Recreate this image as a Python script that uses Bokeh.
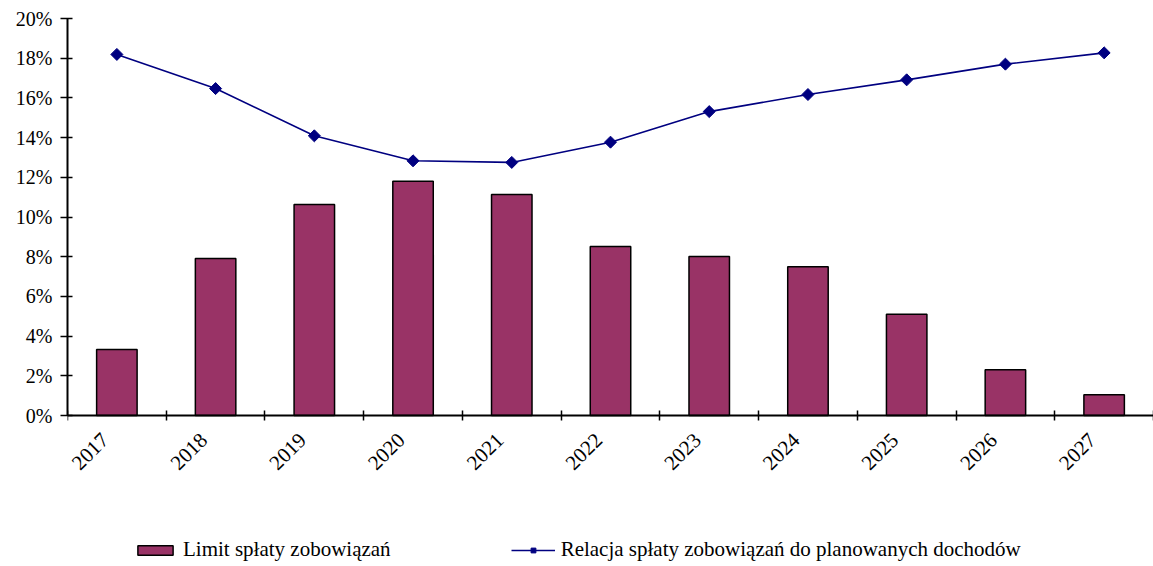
import math
from bokeh.plotting import figure
from bokeh.models import (FixedTicker, NumeralTickFormatter, Legend, LegendItem,
                          ColumnDataSource, Range1d, Grid, LinearAxis)
from bokeh.embed import file_html
from bokeh.resources import INLINE

years = ["2017", "2018", "2019", "2020", "2021", "2022", "2023", "2024", "2025", "2026", "2027"]
limit_splaty = [0.0332, 0.0791, 0.1063, 0.1180, 0.1113, 0.0851, 0.0801, 0.0749, 0.0510, 0.0230, 0.0104]
relacja = [0.1819, 0.1647, 0.1409, 0.1283, 0.1275, 0.1377, 0.1531, 0.1617, 0.1691, 0.1770, 0.1827]
y_ticks = [0.0, 0.02, 0.04, 0.06, 0.08, 0.10, 0.12, 0.14, 0.16, 0.18, 0.20]

FONT = "Liberation Serif"

idx = list(range(len(years)))
src = ColumnDataSource(dict(x=idx, year=years, limit=limit_splaty, rel=relacja))

# frame runs from the top margin to the bottom of the page; value 0 sits 151 px above the bottom
Y_MAX = 0.2
Y_MIN = -Y_MAX * 151 / 397

p = figure(width=1153, height=566, output_backend="svg", toolbar_location=None,
           x_axis_location=None,
           x_range=Range1d(-0.5, len(years) - 0.5), y_range=Range1d(Y_MIN, Y_MAX),
           min_border_left=67, min_border_right=0, min_border_top=18, min_border_bottom=0)
p.outline_line_color = None
p.background_fill_color = "white"
p.border_fill_color = "white"
p.grid.visible = False

bars = p.vbar(x="x", top="limit", width=0.41, bottom=0, source=src,
              fill_color="#993366", line_color="black", line_width=1.5)
ln = p.line(x="x", y="rel", source=src, line_color="#000080", line_width=1.6)
mk = p.scatter(x="x", y="rel", source=src, marker="square", angle=math.pi / 4, size=8.5,
               fill_color="#000080", line_color="#000080")

# top gray line at 20%
top_grid = Grid(dimension=1, ticker=FixedTicker(ticks=[Y_MAX]), grid_line_color="#999999",
                grid_line_width=1.5)
p.add_layout(top_grid)

# x axis fixed at value 0; labels slightly left of the category centre
label_shift = 0.12
label_pos = [i - label_shift for i in idx]
xa = LinearAxis(fixed_location=0,
                ticker=FixedTicker(ticks=label_pos,
                                   minor_ticks=[i - 0.5 for i in range(len(years) + 1)]))
xa.major_label_overrides = {pos: y for pos, y in zip(label_pos, years)}
xa.major_label_orientation = math.pi / 4
xa.major_tick_in = 0
xa.major_tick_out = 0
xa.minor_tick_in = 5
xa.minor_tick_out = 5
xa.minor_tick_line_color = "black"
xa.minor_tick_line_width = 1.5
xa.axis_line_color = "black"
xa.axis_line_width = 2
xa.major_label_text_font = FONT
xa.major_label_text_font_size = "21px"
xa.major_label_text_color = "black"
xa.major_label_standoff = 16
p.add_layout(xa, "below")

# y axis
ya = p.yaxis[0]
ya.ticker = FixedTicker(ticks=y_ticks)
ya.bounds = (0, Y_MAX)
ya.formatter = NumeralTickFormatter(format="0%")
ya.major_tick_in = 5
ya.major_tick_out = 7
ya.minor_tick_in = 0
ya.minor_tick_out = 0
ya.major_tick_line_color = "black"
ya.major_tick_line_width = 1.5
ya.axis_line_color = "black"
ya.axis_line_width = 2
ya.major_label_text_font = FONT
ya.major_label_text_font_size = "20px"
ya.major_label_text_color = "black"
ya.major_label_standoff = 8

legend = Legend(items=[LegendItem(label="Limit spłaty zobowiązań", renderers=[bars]),
                       LegendItem(label="Relacja spłaty zobowiązań do planowanych dochodów",
                                  renderers=[ln, mk])],
                orientation="horizontal", location=(66, 4),
                label_text_font=FONT, label_text_font_size="21px", label_text_color="black",
                glyph_width=44, glyph_height=12, spacing=120, label_standoff=6,
                border_line_color=None, background_fill_alpha=0,
                margin=0, padding=4)
p.add_layout(legend, "center")

open("out.html", "w").write(file_html(p, INLINE))
